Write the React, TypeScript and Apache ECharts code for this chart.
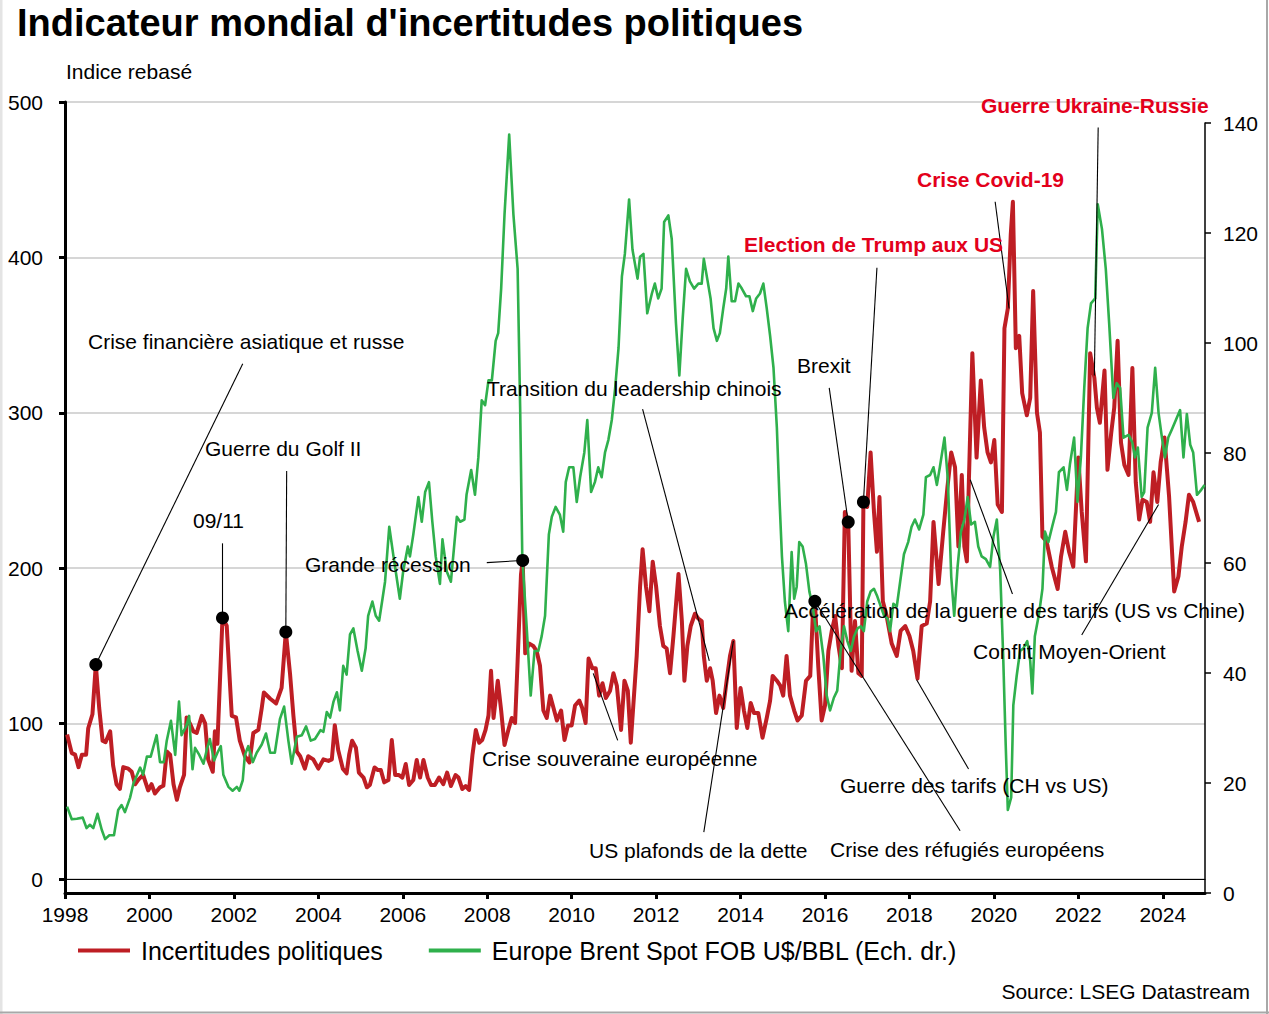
import React, { useEffect, useRef } from "react";
import * as echarts from "echarts";

const FONT = '"Liberation Sans", Arial, Helvetica, sans-serif';

// ---------- DATA ----------
const xTickYears = [1998, 2000, 2002, 2004, 2006, 2008, 2010, 2012, 2014, 2016, 2018, 2020, 2022, 2024];
const leftTicks = [0, 100, 200, 300, 400, 500];
const rightTicks = [0, 20, 40, 60, 80, 100, 120, 140];

const seriesNames = ["Incertitudes politiques", "Europe Brent Spot FOB U$/BBL (Ech. dr.)"];

// Indicateur mondial d'incertitudes politiques (indice rebasé) [année, valeur]
const uncertainty: [number, number][] = [
  [1998.05, 93], [1998.16, 81], [1998.24, 80], [1998.32, 72], [1998.40, 80], [1998.50, 80], [1998.55, 97], [1998.65, 106], [1998.73, 138], [1998.81, 110], [1998.89, 89], [1998.96, 88],
  [1999.07, 95], [1999.14, 73], [1999.22, 61], [1999.30, 58], [1999.38, 72], [1999.50, 71], [1999.58, 69], [1999.66, 61], [1999.74, 64], [1999.85, 67], [1999.97, 57],
  [2000.05, 61], [2000.13, 55], [2000.25, 59], [2000.33, 60], [2000.41, 82], [2000.49, 80], [2000.57, 61], [2000.65, 51], [2000.72, 59], [2000.82, 67], [2000.88, 104], [2000.96, 100],
  [2001.04, 95], [2001.12, 94], [2001.24, 105], [2001.32, 100], [2001.39, 77], [2001.50, 69], [2001.55, 95], [2001.61, 87], [2001.73, 168], [2001.83, 163], [2001.95, 105],
  [2002.05, 104], [2002.14, 89], [2002.26, 79], [2002.37, 75], [2002.46, 94], [2002.58, 96], [2002.66, 110], [2002.71, 120], [2002.86, 116],
  [2003.00, 113], [2003.13, 123], [2003.23, 159], [2003.33, 132], [2003.41, 105], [2003.49, 82], [2003.57, 79], [2003.68, 71], [2003.76, 79], [2003.88, 77],
  [2004.00, 71], [2004.12, 77], [2004.24, 76], [2004.32, 77], [2004.39, 99], [2004.47, 83], [2004.58, 71], [2004.67, 68], [2004.73, 80], [2004.80, 89], [2004.89, 84.5], [2004.96, 68.5],
  [2005.07, 65.3], [2005.15, 59], [2005.22, 60.5], [2005.33, 71.8], [2005.41, 70.1], [2005.48, 70.1], [2005.56, 62.2], [2005.66, 63.7], [2005.74, 89.4], [2005.82, 66.9], [2005.91, 66.9], [2005.99, 65.3],
  [2006.07, 74], [2006.15, 60.5], [2006.25, 63.7], [2006.33, 76.6], [2006.41, 65.3], [2006.49, 76.6], [2006.59, 65.3], [2006.67, 60.5], [2006.76, 60.5], [2006.86, 65.3], [2006.96, 61],
  [2007.05, 68.5], [2007.14, 59.8], [2007.25, 66.9], [2007.32, 65.3], [2007.41, 57.9], [2007.49, 59.8], [2007.57, 57.3], [2007.65, 79.8], [2007.73, 95.9], [2007.81, 87.7], [2007.88, 89.4], [2007.96, 95.9],
  [2008.03, 105.2], [2008.09, 134], [2008.15, 103.6], [2008.25, 127.6], [2008.33, 108.4], [2008.41, 86.2], [2008.50, 95.9], [2008.58, 103.6], [2008.66, 100.4], [2008.72, 140.3], [2008.80, 196], [2008.84, 205], [2008.90, 145.2], [2008.99, 151.5],
  [2009.09, 150], [2009.17, 146.7], [2009.25, 137.2], [2009.33, 108.4], [2009.41, 103.6], [2009.49, 118], [2009.57, 110], [2009.65, 102], [2009.75, 108.4], [2009.83, 89.4], [2009.91, 98.8],
  [2010.00, 98.8], [2010.08, 111.6], [2010.18, 114.8], [2010.25, 110], [2010.33, 100.4], [2010.40, 141.9], [2010.49, 135.6], [2010.57, 135.6], [2010.65, 118], [2010.73, 126], [2010.81, 116.5], [2010.91, 121.2], [2010.99, 132.4],
  [2011.07, 124.4], [2011.17, 95.9], [2011.25, 127.6], [2011.33, 121.2], [2011.40, 87.7], [2011.54, 143.5], [2011.62, 188.2], [2011.68, 212.2], [2011.76, 188.2], [2011.84, 172.3], [2011.92, 204.2],
  [2012.00, 188.2], [2012.09, 162.8], [2012.17, 150], [2012.25, 148.3], [2012.33, 132.4], [2012.41, 156.4], [2012.53, 196.3], [2012.61, 166], [2012.67, 127.6], [2012.74, 150], [2012.82, 162.8], [2012.92, 170.7],
  [2013.00, 167.5], [2013.08, 166], [2013.13, 143.5], [2013.20, 127.6], [2013.28, 135.6], [2013.34, 127.6], [2013.42, 106.8], [2013.50, 118], [2013.59, 110], [2013.67, 127.6], [2013.75, 143.5], [2013.83, 153.2], [2013.91, 97.2],
  [2014.00, 122.9], [2014.08, 108.4], [2014.16, 97.2], [2014.24, 113.3], [2014.32, 106.8], [2014.42, 106.8], [2014.52, 90.9], [2014.62, 103.6], [2014.70, 114.8], [2014.76, 130.7], [2014.86, 127.6], [2014.94, 124.4],
  [2015.01, 118], [2015.09, 143.5], [2015.17, 118], [2015.27, 108.4], [2015.35, 102], [2015.45, 105.2], [2015.55, 127.6], [2015.65, 130.7], [2015.71, 169.2], [2015.76, 178.7], [2015.84, 137.1], [2015.92, 102],
  [2016.00, 111.6], [2016.08, 146.7], [2016.16, 159.6], [2016.24, 169.2], [2016.32, 150], [2016.40, 135.6], [2016.47, 236.2], [2016.55, 229.7], [2016.63, 134], [2016.71, 166], [2016.79, 132.4], [2016.87, 130.7], [2016.91, 242.6],
  [2017.00, 239.4], [2017.08, 274.5], [2017.16, 236.2], [2017.23, 210.6], [2017.29, 245.8], [2017.37, 178.7], [2017.46, 169.2], [2017.58, 151.5], [2017.70, 143.5], [2017.79, 159.6], [2017.90, 162.8],
  [2018.00, 156.4], [2018.09, 146.7], [2018.19, 129], [2018.29, 162.8], [2018.41, 164.4], [2018.49, 178.7], [2018.57, 229.8], [2018.69, 189.8], [2018.80, 223.4], [2018.90, 252.1], [2018.99, 274.5],
  [2019.08, 264.9], [2019.16, 214], [2019.24, 260], [2019.30, 214], [2019.36, 204.4], [2019.41, 258.5], [2019.49, 338.4], [2019.59, 271.2], [2019.69, 320.8], [2019.77, 290.5], [2019.85, 274.5], [2019.93, 268.1],
  [2020.01, 282.5], [2020.09, 241], [2020.19, 236.2], [2020.25, 354.3], [2020.33, 367.1], [2020.40, 415], [2020.45, 435.8], [2020.52, 341.6], [2020.60, 349.5], [2020.67, 312.7], [2020.78, 298.4], [2020.86, 309.6], [2020.93, 378.3],
  [2021.02, 300], [2021.09, 287.3], [2021.15, 220.2], [2021.25, 217], [2021.37, 201], [2021.51, 186.6], [2021.59, 207.5], [2021.69, 223.4], [2021.78, 210.6], [2021.88, 201],
  [2022.00, 271.2], [2022.08, 236.2], [2022.18, 204.4], [2022.28, 338.4], [2022.38, 322.4], [2022.44, 303.2], [2022.51, 293.6], [2022.62, 327.2], [2022.69, 263.3], [2022.78, 287.3], [2022.85, 303.2], [2022.93, 346.3],
  [2023.01, 280.9], [2023.09, 266.5], [2023.19, 260], [2023.28, 328.8], [2023.36, 255.3], [2023.44, 231.3], [2023.52, 244.1], [2023.62, 242.6], [2023.70, 229.8], [2023.78, 261.7], [2023.87, 242.6], [2023.95, 268.1],
  [2024.04, 284.1], [2024.15, 245.8], [2024.27, 185], [2024.37, 194.7], [2024.45, 214], [2024.54, 229.8], [2024.62, 247.3], [2024.72, 242.6], [2024.86, 229.8],
];

// Europe Brent Spot FOB U$/BBL [année, valeur]
const brent: [number, number][] = [
  [1998.05, 15.7], [1998.16, 13.4], [1998.28, 13.5], [1998.42, 13.7], [1998.51, 11.8], [1998.59, 12.4], [1998.67, 11.8], [1998.77, 14.4], [1998.87, 11.5], [1998.95, 9.8],
  [1999.05, 10.5], [1999.16, 10.5], [1999.26, 15.1], [1999.34, 16], [1999.42, 14.7], [1999.54, 17.3], [1999.62, 19.9], [1999.78, 22.8], [1999.85, 21.5], [1999.94, 24.8],
  [2000.03, 24.8], [2000.17, 28.7], [2000.25, 23.8], [2000.34, 23.8], [2000.41, 27.7], [2000.51, 31.3], [2000.61, 25.1], [2000.70, 34.8], [2000.76, 28.7], [2000.87, 30.3], [2000.94, 32.2],
  [2001.02, 22.5], [2001.08, 26.4], [2001.18, 25.1], [2001.28, 23.5], [2001.36, 26.1], [2001.43, 28], [2001.53, 24.1], [2001.61, 25.5], [2001.69, 26.7], [2001.75, 21.5], [2001.87, 19.3], [2001.97, 18.6],
  [2002.07, 19.3], [2002.13, 18.6], [2002.21, 20.5], [2002.26, 25.1], [2002.34, 26.7], [2002.45, 23.8], [2002.54, 25.5], [2002.66, 27], [2002.76, 29], [2002.86, 25.5], [2002.97, 25.5],
  [2003.09, 31.6], [2003.19, 33.9], [2003.29, 27.7], [2003.37, 23.5], [2003.49, 28.4], [2003.61, 28.7], [2003.71, 30.3], [2003.82, 27.7], [2003.92, 28],
  [2004.05, 29.6], [2004.12, 29.3], [2004.20, 32.9], [2004.28, 31.9], [2004.36, 34.8], [2004.44, 36.5], [2004.51, 33.2], [2004.59, 41.3], [2004.67, 39.7], [2004.75, 47], [2004.83, 48.1], [2004.93, 44],
  [2005.03, 40.4], [2005.12, 44.5], [2005.18, 50.4], [2005.28, 53], [2005.36, 50.4], [2005.44, 49.5], [2005.52, 53.5], [2005.58, 56.6], [2005.68, 66.6], [2005.78, 61.2], [2005.86, 57.1], [2005.93, 53.5],
  [2006.01, 58.5], [2006.12, 63], [2006.17, 61.2], [2006.25, 65.2], [2006.37, 72], [2006.45, 67.5], [2006.53, 72.9], [2006.62, 74.7], [2006.70, 67.5], [2006.78, 61.2], [2006.88, 56.2], [2006.94, 64.3],
  [2007.04, 58.5], [2007.14, 56.6], [2007.28, 68.4], [2007.36, 67.5], [2007.46, 67.9], [2007.51, 72.4], [2007.62, 76.9], [2007.71, 72.4], [2007.79, 79.2], [2007.87, 89.6], [2007.95, 88.7],
  [2008.03, 93.2], [2008.11, 93.2], [2008.20, 100.4], [2008.26, 101.8], [2008.33, 109.9], [2008.41, 123.4], [2008.52, 137.9], [2008.62, 123.4], [2008.72, 113.5], [2008.78, 88.2], [2008.83, 61.2], [2008.94, 47.6],
  [2009.03, 35.9], [2009.12, 44], [2009.21, 44], [2009.29, 46.7], [2009.37, 50.4], [2009.46, 65.2], [2009.53, 68.4], [2009.62, 70.2], [2009.72, 68.8], [2009.80, 65.7], [2009.86, 74.7], [2009.94, 77.4],
  [2010.04, 77.4], [2010.12, 71.1], [2010.20, 75.6], [2010.30, 80.1], [2010.37, 86], [2010.46, 72.9], [2010.55, 74.7], [2010.63, 77.4], [2010.71, 75.6], [2010.79, 80.1], [2010.87, 82.4], [2010.95, 86],
  [2011.03, 91.8], [2011.11, 99.1], [2011.19, 112.1], [2011.26, 116.2], [2011.36, 126.1], [2011.44, 117], [2011.56, 111.7], [2011.62, 115.7], [2011.70, 116.2], [2011.79, 105.4], [2011.90, 109], [2011.97, 110.8],
  [2012.05, 108.1], [2012.13, 109.9], [2012.19, 122], [2012.29, 123.2], [2012.37, 118.9], [2012.47, 103.6], [2012.55, 94.1], [2012.63, 104.5], [2012.71, 113.5], [2012.80, 111.2], [2012.90, 109.9],
  [2013.00, 110.8], [2013.08, 110.8], [2013.13, 115.3], [2013.21, 111.7], [2013.29, 108.1], [2013.36, 102.7], [2013.44, 100.4], [2013.51, 101.8], [2013.59, 106.3], [2013.66, 109.9], [2013.71, 115.7], [2013.79, 107.6], [2013.87, 107.6], [2013.95, 110.8],
  [2014.03, 109.9], [2014.13, 108.5], [2014.21, 108.5], [2014.29, 105.8], [2014.37, 108.1], [2014.46, 109], [2014.54, 110.8], [2014.62, 106.3], [2014.70, 101.3], [2014.78, 95.5], [2014.86, 84.6], [2014.92, 72], [2014.98, 61.2],
  [2015.05, 53], [2015.13, 47.6], [2015.21, 62], [2015.27, 53.5], [2015.33, 55.7], [2015.39, 63.8], [2015.47, 63], [2015.55, 59.8], [2015.63, 54.8], [2015.71, 52.1], [2015.79, 47.6], [2015.87, 48.5], [2015.96, 43.1],
  [2016.04, 35.9], [2016.12, 33.2], [2016.21, 35.5], [2016.29, 36.8], [2016.37, 44], [2016.45, 48.5], [2016.53, 45.8], [2016.61, 44], [2016.69, 46.7], [2016.77, 48.1], [2016.85, 48.5], [2016.92, 47.6],
  [2017.00, 53], [2017.08, 54.8], [2017.16, 55.3], [2017.24, 53.9], [2017.32, 52.1], [2017.40, 50.4], [2017.48, 49.9], [2017.54, 47.6], [2017.62, 52.6], [2017.70, 52.1], [2017.78, 56.6], [2017.87, 61.6], [2017.97, 63.8],
  [2018.05, 66.6], [2018.13, 67.9], [2018.23, 66.1], [2018.33, 68.8], [2018.39, 75.6], [2018.49, 76], [2018.57, 77.4], [2018.65, 74.2], [2018.72, 77.4], [2018.83, 82.8], [2018.91, 75.1], [2018.99, 57.5],
  [2019.06, 50.4], [2019.14, 59.3], [2019.22, 65.7], [2019.30, 67.9], [2019.38, 72], [2019.46, 67], [2019.55, 67.5], [2019.63, 63], [2019.71, 61.2], [2019.81, 60.7], [2019.91, 59.3], [2019.99, 64.8],
  [2020.07, 67.9], [2020.15, 58.5], [2020.22, 43.1], [2020.28, 26.9], [2020.33, 15.1], [2020.41, 17.4], [2020.46, 34.1], [2020.54, 39.5], [2020.62, 44], [2020.70, 44.5], [2020.79, 45.8], [2020.86, 42.2], [2020.91, 36.3], [2020.97, 46.7],
  [2021.07, 50.8], [2021.15, 55.3], [2021.21, 65.7], [2021.29, 63.8], [2021.38, 66.6], [2021.47, 69.3], [2021.54, 76.5], [2021.65, 77.4], [2021.73, 73.3], [2021.80, 77.9], [2021.90, 82.8], [2021.98, 71.1],
  [2022.06, 79.2], [2022.14, 91.8], [2022.22, 102.7], [2022.30, 107.2], [2022.40, 108.1], [2022.46, 125.2], [2022.56, 120.7], [2022.65, 113.5], [2022.73, 103.6], [2022.83, 90], [2022.91, 92.7], [2022.99, 91.8],
  [2023.07, 82.8], [2023.19, 83.3], [2023.28, 81.9], [2023.34, 79.2], [2023.41, 81], [2023.50, 72], [2023.56, 72.9], [2023.64, 84.6], [2023.74, 87.3], [2023.82, 95.5], [2023.90, 87.3], [2023.98, 82.8],
  [2024.05, 79.2], [2024.13, 82.8], [2024.21, 84.2], [2024.31, 86], [2024.41, 87.8], [2024.49, 79.2], [2024.57, 87.1], [2024.65, 81.5], [2024.72, 80.1], [2024.81, 72.4], [2024.91, 73.3], [2024.99, 74.2],
];

// Points marqués (sur la série d'incertitudes) [année, valeur]
const eventDots: [number, number][] = [
  [1998.73, 138], [2001.73, 168], [2003.23, 159], [2008.84, 205], [2015.76, 178.7], [2016.55, 229.7], [2016.91, 242.6],
];

// Traits de renvoi, en coordonnées de l'axe gauche [[année, valeur], [année, valeur]]
const leaderLines: [number, number][][] = [
  [[2002.21, 331.5], [1998.73, 138]],
  [[2003.25, 262.5], [2003.23, 159]],
  [[2001.73, 216], [2001.73, 168]],
  [[2007.99, 203.6], [2008.84, 205]],
  [[2011.68, 302.3], [2013.26, 140.3]],
  [[2010.51, 132.3], [2011.09, 89.2]],
  [[2013.13, 30.2], [2013.83, 153.2]],
  [[2016.10, 316], [2016.55, 229.7]],
  [[2017.23, 393.3], [2016.91, 242.6]],
  [[2020.03, 435.8], [2020.36, 367.1]],
  [[2022.47, 483.6], [2022.38, 324]],
  [[2019.44, 256.9], [2020.44, 183.4]],
  [[2023.90, 241], [2022.08, 157]],
  [[2018.17, 128.2], [2019.40, 70.8]],
  [[2015.76, 178.7], [2019.20, 31.1]],
];

const annotationTexts = [
  "Crise financière asiatique et russe",
  "Guerre du Golf II",
  "09/11",
  "Grande récession",
  "Transition du leadership chinois",
  "Crise souveraine européenne",
  "US plafonds de la dette",
  "Brexit",
  "Election de Trump aux US",
  "Crise Covid-19",
  "Guerre Ukraine-Russie",
  "Accélération de la guerre des tarifs (US vs Chine)",
  "Conflit Moyen-Orient",
  "Guerre des tarifs (CH vs US)",
  "Crise des réfugiés européens",
];
const highlighted = [false, false, false, false, false, false, false, false, true, true, true, false, false, false, false];

// layout of annotation labels (pixels, left edge / vertical centre)
const annotationLayout: [number, number][] = [
  [88, 341], [205, 448], [193, 520], [305, 564], [487, 388], [482, 758], [589, 850], [797, 365],
  [744, 244], [917, 179], [981, 105], [784, 610], [973, 651], [840, 785], [830, 849],
];

const title = "Indicateur mondial d'incertitudes politiques";
const leftAxisTitle = "Indice rebasé";
const sourceText = "Source: LSEG Datastream";

export default function App() {
  const ref = useRef<HTMLDivElement>(null);
  useEffect(() => {
    if (!ref.current) return;
    const chart = echarts.init(ref.current, null, { renderer: "svg" });
    const RED = "#be1e24";
    const GREEN = "#2fb04c";
    const ALERT = "#e3001b";

    const gridLeft = 65;
    const gridRight = 64;

    const graphics: any[] = [
      {
        type: "text", x: 17, y: 23,
        style: { text: title, font: `bold 38px ${FONT}`, fill: "#000", verticalAlign: "middle" },
      },
      {
        type: "text", x: 66, y: 71,
        style: { text: leftAxisTitle, font: `21px ${FONT}`, fill: "#000", verticalAlign: "middle" },
      },
      {
        type: "text", x: 1250, y: 991,
        style: { text: sourceText, font: `21px ${FONT}`, fill: "#000", align: "right", verticalAlign: "middle" },
      },
      { type: "line", shape: { x1: 1, y1: 0, x2: 1, y2: 1014 }, style: { stroke: "#e4e4e4", lineWidth: 3 }, silent: true },
      { type: "line", shape: { x1: 1267, y1: 0, x2: 1267, y2: 1014 }, style: { stroke: "#a8a8a8", lineWidth: 2 }, silent: true },
      { type: "line", shape: { x1: 0, y1: 1012.5, x2: 1269, y2: 1012.5 }, style: { stroke: "#a8a8a8", lineWidth: 2 }, silent: true },
    ];
    annotationTexts.forEach((t, i) => {
      const [x, y] = annotationLayout[i];
      graphics.push({
        type: "text", x, y, z: 100,
        style: {
          text: t,
          font: highlighted[i] ? `bold 21px ${FONT}` : `21px ${FONT}`,
          fill: highlighted[i] ? ALERT : "#000",
          verticalAlign: "middle",
        },
      });
    });

    const option: any = {
      animation: false,
      backgroundColor: "#fff",
      textStyle: { fontFamily: FONT },
      grid: [
        { left: gridLeft, right: gridRight, top: 102, height: 777 },
        { left: gridLeft, right: gridRight, top: 123, height: 770 },
      ],
      legend: {
        left: 78, top: 938, padding: 0,
        icon: "rect", itemWidth: 52, itemHeight: 4, itemGap: 46,
        textStyle: { fontSize: 25, color: "#000", fontFamily: FONT, padding: [0, 0, 0, 6] },
        data: seriesNames,
      },
      xAxis: [
        {
          gridIndex: 0, type: "value", min: 1998, max: 2025,
          axisLine: { show: true, onZero: false, lineStyle: { color: "#000", width: 1.2 } },
          axisTick: { show: false }, axisLabel: { show: false }, splitLine: { show: false },
        },
        {
          gridIndex: 1, type: "value", min: 1998, max: 2025,
          axisLine: { show: true, onZero: false, lineStyle: { color: "#000", width: 3 } },
          axisTick: { show: true, length: 6, lineStyle: { color: "#000", width: 3 }, customValues: xTickYears },
          axisLabel: { customValues: xTickYears, fontSize: 21, color: "#000", margin: 11, fontFamily: FONT, formatter: (v: number) => String(v) },
          splitLine: { show: false },
        },
      ],
      yAxis: [
        {
          gridIndex: 0, type: "value", min: leftTicks[0], max: leftTicks[leftTicks.length - 1], interval: 100, position: "left",
          axisLine: { show: true, lineStyle: { color: "#000", width: 3 } },
          axisTick: { show: true, length: 6, lineStyle: { color: "#000", width: 3 } },
          axisLabel: { fontSize: 21, color: "#000", margin: 22, fontFamily: FONT },
          splitLine: { show: true, lineStyle: { color: "#c8c8c8", width: 1.5 } },
        },
        {
          gridIndex: 1, type: "value", min: rightTicks[0], max: rightTicks[rightTicks.length - 1], interval: 20, position: "right",
          axisLine: { show: true, lineStyle: { color: "#000", width: 1.5 } },
          axisTick: { show: true, length: 6, lineStyle: { color: "#000", width: 1.5 } },
          axisLabel: { fontSize: 21, color: "#000", margin: 18, fontFamily: FONT },
          splitLine: { show: false },
        },
        {
          gridIndex: 1, type: "value", min: 0, max: 1, position: "left",
          axisLine: { show: true, lineStyle: { color: "#000", width: 3 } },
          axisTick: { show: false }, axisLabel: { show: false }, splitLine: { show: false },
        },
      ],
      series: [
        {
          name: seriesNames[0], type: "line", xAxisIndex: 0, yAxisIndex: 0,
          data: uncertainty, showSymbol: false, symbol: "none",
          lineStyle: { color: RED, width: 4, join: "round" }, itemStyle: { color: RED },
          z: 3,
        },
        {
          name: seriesNames[1], type: "line", xAxisIndex: 1, yAxisIndex: 1,
          data: brent, showSymbol: false, symbol: "none",
          lineStyle: { color: GREEN, width: 2.6, join: "round" }, itemStyle: { color: GREEN },
          z: 4,
        },
        {
          type: "lines", coordinateSystem: "cartesian2d", xAxisIndex: 0, yAxisIndex: 0,
          data: leaderLines.map((c) => ({ coords: c })),
          lineStyle: { color: "#000", width: 1.1, opacity: 1 },
          symbol: ["none", "none"], silent: true, z: 5,
        },
        {
          type: "scatter", xAxisIndex: 0, yAxisIndex: 0,
          data: eventDots, symbolSize: 13, itemStyle: { color: "#000", opacity: 1 }, silent: true, z: 6,
        },
      ],
      graphic: graphics,
    };
    chart.setOption(option);
    return () => chart.dispose();
  }, []);
  return (
    <div
      ref={ref}
      style={{ position: "absolute", left: 0, top: 0, width: 1269, height: 1014, background: "#fff" }}
    />
  );
}
